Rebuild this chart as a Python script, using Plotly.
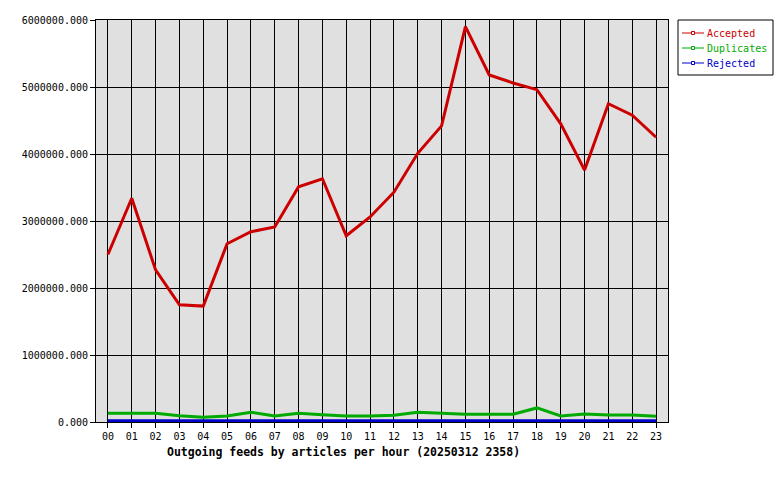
import plotly.graph_objects as go

hours = [f"{h:02d}" for h in range(24)]
accepted = [2500000, 3340000, 2270000, 1750000, 1730000, 2660000, 2840000, 2910000,
            3510000, 3630000, 2780000, 3060000, 3430000, 4010000, 4420000, 5900000,
            5180000, 5060000, 4960000, 4450000, 3760000, 4750000, 4580000, 4250000]
duplicates = [130000, 130000, 130000, 95000, 70000, 90000, 145000, 90000,
              130000, 110000, 90000, 90000, 100000, 145000, 125000, 115000,
              115000, 115000, 210000, 90000, 120000, 105000, 105000, 85000]
rejected = [20000] * 24

names = ["Accepted", "Duplicates", "Rejected"]
colors = ["#cc0000", "#00aa00", "#0000cc"]
series = [accepted, duplicates, rejected]

FONT = "DejaVu Sans Mono"
L, R, T, B = 96, 668, 20, 422
PW, PH = R - L, B - T


def px(x):
    return (x - L) / PW


def py(y):
    return (B - y) / PH


fig = go.Figure()
for name, col, ys in zip(names, colors, series):
    fig.add_trace(go.Scatter(x=hours, y=ys, mode="lines", name=name,
                             line=dict(color=col, width=3),
                             showlegend=False, hoverinfo="skip"))

fig.update_layout(
    width=780, height=480,
    margin=dict(l=L, r=780 - R, t=T, b=480 - B, autoexpand=False),
    paper_bgcolor="white", plot_bgcolor="#e0e0e0",
    font=dict(family=FONT, size=10, color="black"),
    showlegend=False,
)
fig.update_xaxes(type="category", range=[-0.5, 23.5], showgrid=True, gridcolor="black",
                 gridwidth=1, showline=True, linecolor="black", linewidth=1, mirror=True,
                 ticks="outside", ticklen=5, tickcolor="black", zeroline=False,
                 automargin=False, tickfont=dict(family=FONT, size=10))
fig.update_yaxes(range=[0, 6000000], dtick=1000000, tickformat=".3f", showgrid=True,
                 gridcolor="black", gridwidth=1, showline=True, linecolor="black",
                 linewidth=1, mirror=True, ticks="outside", ticklen=5, tickcolor="black",
                 zeroline=False, automargin=False, tickfont=dict(family=FONT, size=10))

fig.add_annotation(text="<b>Outgoing feeds by articles per hour (20250312 2358)</b>",
                   xref="paper", yref="paper", x=px(343), y=0, yshift=-30,
                   xanchor="center", yanchor="middle", showarrow=False,
                   font=dict(family=FONT, size=11.5, color="black"))

# legend box
fig.add_shape(type="rect", xref="paper", yref="paper", x0=px(678), x1=px(773),
              y0=py(20), y1=py(75), line=dict(color="black", width=1),
              fillcolor="white", layer="above")
for i, (name, col) in enumerate(zip(names, colors)):
    yy = 33 + 15 * i
    fig.add_shape(type="line", xref="paper", yref="paper", x0=px(682), x1=px(704),
                  y0=py(yy), y1=py(yy), line=dict(color=col, width=1))
    fig.add_shape(type="rect", xref="paper", yref="paper", x0=px(691.5), x1=px(694.5),
                  y0=py(yy + 1.5), y1=py(yy - 1.5), line=dict(color=col, width=1),
                  fillcolor="white")
    fig.add_annotation(text=name, xref="paper", yref="paper", x=px(705), y=py(yy),
                       xanchor="left", yanchor="middle", showarrow=False,
                       font=dict(family=FONT, size=10, color=col))

fig.write_html("out.html", post_script="document.body.style.margin='0';",
               config={"displayModeBar": False, "staticPlot": True})
